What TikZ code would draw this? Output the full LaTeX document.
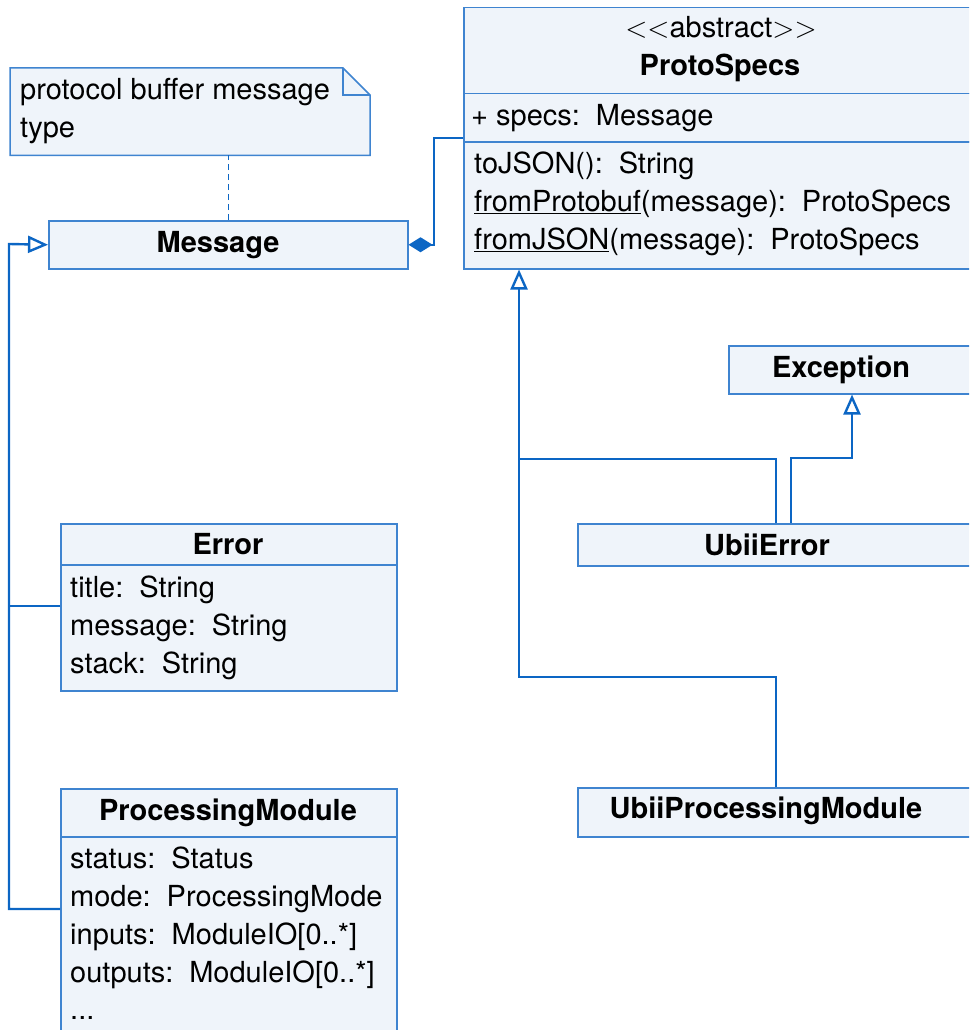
\RequirePackage{fix-cm}
\documentclass[tikz,border=0pt]{standalone}
\usepackage{fontspec}
\setmainfont{TeX Gyre Heros}
\usetikzlibrary{arrows.meta}
\definecolor{boxfill}{HTML}{EFF4FA}
\definecolor{boxline}{HTML}{3F84D0}
\definecolor{wire}{HTML}{0C66C4}
\newcommand\csep{\hspace{0.55em}}
\begin{document}
\begin{tikzpicture}[x=1pt,y=-1pt,
  font=\fontsize{29}{38}\selectfont,
  box/.style={draw=boxline, fill=boxfill, line width=1.5pt, inner sep=0pt, anchor=north west},
  label/.style={inner sep=0pt, anchor=base west, text=black},
  title/.style={inner sep=0pt, anchor=base, text=black, font=\fontsize{29}{38}\selectfont\bfseries},
  wireline/.style={draw=wire, line width=2.4pt},
  gen/.style={wireline, -{Triangle[fill=white, length=20pt, width=17pt]}},
  comp/.style={wireline, {Diamond[length=24pt, width=15pt]}-},
  ulink/.style={inner sep=0pt, anchor=base west, text=black}
]
\useasboundingbox (0,0) rectangle (969,1030);
\clip (0,0) rectangle (969,1030);

% ---- note ----
\node[anchor=north west, minimum width=360pt, minimum height=87pt, inner sep=0pt] (note) at (10,68) {};
\draw[draw=boxline, fill=boxfill, line width=1.5pt]
  (note.north west) -- ++(333,0) -- ++(27,27) |- (note.south west) -- cycle;
\draw[draw=boxline, line width=1.5pt] (note.north west) ++(333,0) |- ++(27,27);
\node[label] (noteA) at (20,100) {protocol buffer message};
\node[label] (noteB) at (20,138) {type};

% ---- Message ----
\node[box, minimum width=359pt, minimum height=48pt] (msg) at (48,220) {};
\node[title] (msgT) at (218,252) {Message};

% ---- ProtoSpecs ----
\node[box, minimum width=527pt, minimum height=86pt] (psHead) at (463,7) {};
\node[box, minimum width=527pt, minimum height=48pt] (psAttr) at (463,93) {};
\node[box, minimum width=527pt, minimum height=127pt] (psOps) at (463,141) {};
\node[inner sep=0pt, anchor=base, text=black] (psSt) at (721,38) {$<<$abstract$>>$};
\node[title] (psT) at (720,76) {ProtoSpecs};
\node[label] (psA1) at (471,125) {+ specs:\csep Message};
\node[label] (psO1) at (474,173) {toJSON():\csep String};
\node[ulink] (psO2) at (474,211) {\underline{fromProtobuf}(message):\csep ProtoSpecs};
\node[ulink] (psO3) at (474,249) {\underline{fromJSON}(message):\csep ProtoSpecs};

% ---- Exception ----
\node[box, minimum width=262pt, minimum height=48pt] (exc) at (728,345) {};
\node[title] (excT) at (841,377) {Exception};

% ---- UbiiError ----
\node[box, minimum width=413pt, minimum height=42pt] (ue) at (577,523) {};
\node[title] (ueT) at (767,555) {UbiiError};

% ---- UbiiProcessingModule ----
\node[box, minimum width=413pt, minimum height=49pt] (upm) at (577,787) {};
\node[title] (upmT) at (766,818) {UbiiProcessingModule};

% ---- Error ----
\node[box, minimum width=336pt, minimum height=41pt] (errHead) at (60,523) {};
\node[box, minimum width=336pt, minimum height=126pt] (errAttr) at (60,564) {};
\node[title] (errT) at (228,554) {Error};
\node[label] (errA1) at (70,597) {title:\csep String};
\node[label] (errA2) at (70,635) {message:\csep String};
\node[label] (errA3) at (70,673) {stack:\csep String};

% ---- ProcessingModule ----
\node[box, minimum width=336pt, minimum height=48pt] (pmHead) at (60,788) {};
\node[box, minimum width=336pt, minimum height=220pt] (pmAttr) at (60,836) {};
\node[title] (pmT) at (228,820) {ProcessingModule};
\node[label] (pmA1) at (70,868) {status:\csep Status};
\node[label] (pmA2) at (70,906) {mode:\csep ProcessingMode};
\node[label] (pmA3) at (70,944) {inputs:\csep ModuleIO[0..*]};
\node[label] (pmA4) at (70,982) {outputs:\csep ModuleIO[0..*]};
\node[label] (pmA5) at (70,1019) {...};

% ---- junction points of the connectors ----
\coordinate (lTop) at (9,244);
\coordinate (lErr) at (9,606);
\coordinate (lPm) at (9,909);
\coordinate (cMsg) at (434,138);
\coordinate (jUpm) at (776,677);
\coordinate (jSpine) at (519,677);
\coordinate (jErr) at (776,459);
\coordinate (jErrS) at (519,459);
\coordinate (jExc) at (791,458);
\coordinate (jExc2) at (852,458);

% ---- connectors ----
\draw[draw=wire, line width=1pt, dash pattern=on 6pt off 4pt] (msg.north) -- (msg.north |- note.south);
\draw[comp] (msg.east) -| (cMsg) -- (psAttr.west |- cMsg);
\draw[gen] (upm.north -| jUpm) -- (jUpm) -- (jSpine) -- (psOps.south -| jSpine);
\draw[wireline] (ue.north -| jErr) -- (jErr) -- (jErrS);
\draw[gen] (ue.north -| jExc) -- (jExc) -- (jExc2) -- (exc.south -| jExc2);
\draw[gen] (pmAttr.west |- lPm) -- (lPm) -- (lTop) -- (msg.west);
\draw[wireline] (errAttr.west |- lErr) -- (lErr);
\end{tikzpicture}
\end{document}
